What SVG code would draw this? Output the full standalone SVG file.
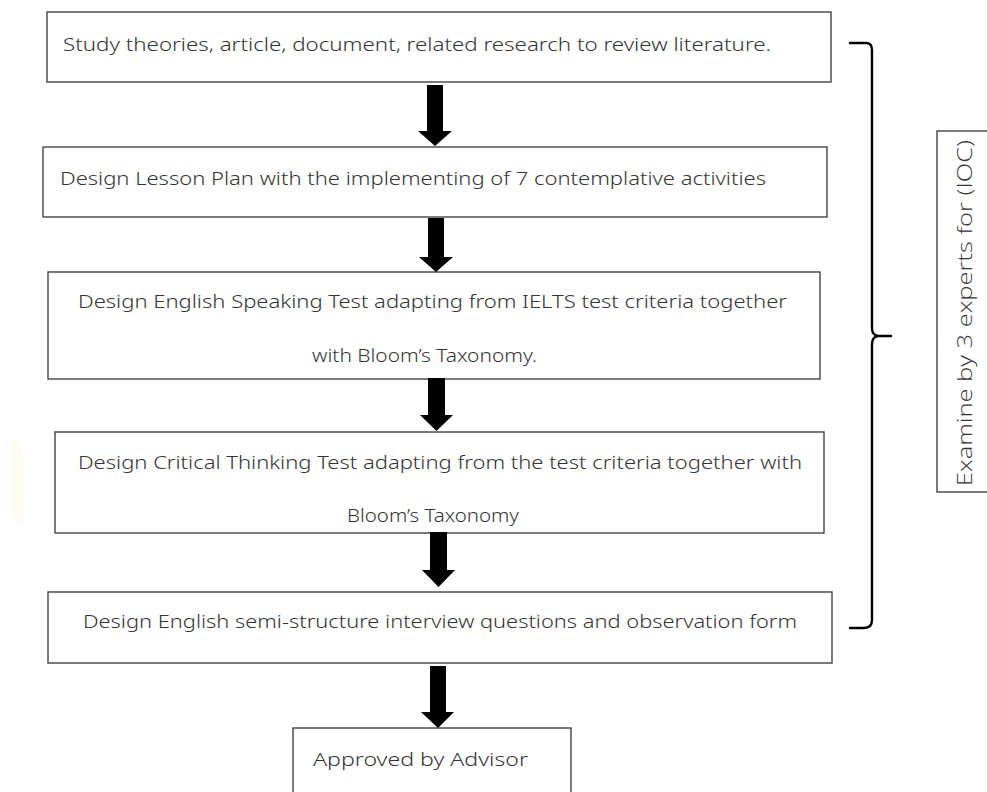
<svg xmlns="http://www.w3.org/2000/svg" width="987" height="792" viewBox="0 0 987 792">
<style>
.box{fill:#fff;stroke:#444;stroke-width:1.4}
.t{font-family:"Noto Sans","Open Sans",sans-serif;font-size:19px;font-weight:300;fill:#333}
.ioc{font-family:"Open Sans","Noto Sans",sans-serif;font-size:20px;font-weight:300;fill:#333}
.arr{fill:#000}
.br{fill:none;stroke:#000;stroke-width:2.4;stroke-linecap:round;stroke-linejoin:round}
</style>
<rect width="987" height="792" fill="#fff"/>
<path d="M11,437 C18,440 24,446 24,470 L24,522 C18,525 12,520 11,505 Z" fill="#fffcf2"/>
<g id="n1"><rect class="box" x="47" y="12" width="784" height="70"/>
<text class="t" x="63" y="51" textLength="708" lengthAdjust="spacingAndGlyphs">Study theories, article, document, related research to review literature.</text></g>
<g id="n2"><rect class="box" x="43" y="147" width="784" height="70"/>
<text class="t" x="60" y="185" textLength="706" lengthAdjust="spacingAndGlyphs">Design Lesson Plan with the implementing of 7 contemplative activities</text></g>
<g id="n3"><rect class="box" x="48" y="272" width="772" height="107"/>
<text class="t" x="78" y="308" textLength="709" lengthAdjust="spacingAndGlyphs">Design English Speaking Test adapting from IELTS test criteria together</text>
<text class="t" x="312" y="362" textLength="225" lengthAdjust="spacingAndGlyphs">with Bloom’s Taxonomy.</text></g>
<g id="n4"><rect class="box" x="55" y="432" width="769" height="101"/>
<text class="t" x="78" y="469" textLength="724" lengthAdjust="spacingAndGlyphs">Design Critical Thinking Test adapting from the test criteria together with</text>
<text class="t" x="347" y="522" textLength="172" lengthAdjust="spacingAndGlyphs">Bloom’s Taxonomy</text></g>
<g id="n5"><rect class="box" x="48" y="592" width="784" height="71"/>
<text class="t" x="83" y="628" textLength="714" lengthAdjust="spacingAndGlyphs">Design English semi-structure interview questions and observation form</text></g>
<g id="n6"><rect class="box" x="293" y="728" width="278" height="80"/>
<text class="t" x="313" y="766" textLength="215" lengthAdjust="spacingAndGlyphs">Approved by Advisor</text></g>
<g id="n7"><rect class="box" x="937" y="131" width="70" height="361"/>
<text class="ioc" transform="translate(972,313) rotate(-90)" text-anchor="middle" textLength="346" lengthAdjust="spacingAndGlyphs">Examine by 3 experts for (IOC)</text></g>
<g id="connectors">
<path class="arr" d="M427,85 H443 V131 H452 L435,146 L418,131 H427 Z"/>
<path class="arr" d="M428,218 H444 V257 H453 L436,272 L419,257 H428 Z"/>
<path class="arr" d="M428,378 H445 V415 H453 L436.5,431 L420,415 H428 Z"/>
<path class="arr" d="M430,532 H447 V570 H455 L438.5,587 L422,570 H430 Z"/>
<path class="arr" d="M430,666 H446 V712 H454 L438,728 L421,712 H430 Z"/>
<path class="br" d="M850,43 H866 Q872,43 872,50 V328 Q872,335 878,336 H891 M878,336 Q872,337 872,344 V620 Q872,628 864,628 H850"/>
</g>
</svg>
